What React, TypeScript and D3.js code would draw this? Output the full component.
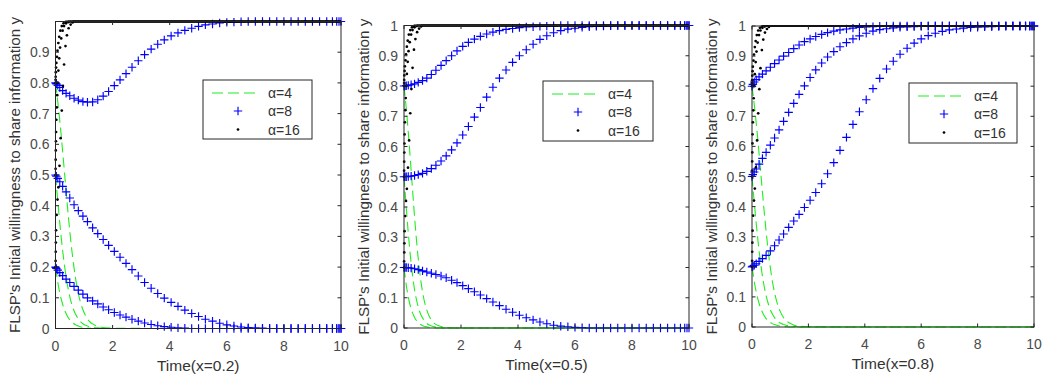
import React from 'react';
import * as d3 from 'd3';

const W = 1045;
const H = 379;

const X_TICKS = [0, 2, 4, 6, 8, 10];
const Y_TICKS = [0, 0.1, 0.2, 0.3, 0.4, 0.5, 0.6, 0.7, 0.8, 0.9, 1];
const Y_TICK_LABELS = ['0', '0.1', '0.2', '0.3', '0.4', '0.5', '0.6', '0.7', '0.8', '0.9', '1'];
const LEGEND_LABELS = ['α=4', 'α=8', 'α=16'];
const X_TITLES = ['Time(x=0.2)', 'Time(x=0.5)', 'Time(x=0.8)'];
const Y_TITLE = "FLSP's Initial willingness to share information y";

// alpha = 4 (green dashed), time samples
const T_GREEN = [0, 0.05, 0.1, 0.15, 0.2, 0.25, 0.3, 0.35, 0.4, 0.5, 0.6, 0.7, 0.8, 0.9, 1.0, 1.1, 1.2, 1.3, 1.4, 1.5, 1.6, 2, 4, 6, 8, 10];
const G1_80 = [0.800, 0.763, 0.722, 0.677, 0.629, 0.577, 0.524, 0.470, 0.417, 0.318, 0.233, 0.165, 0.114, 0.077, 0.052, 0.034, 0.022, 0.015, 0.010, 0.006, 0.004, 0.001, 0, 0, 0, 0];
const G1_50 = [0.500, 0.446, 0.394, 0.344, 0.297, 0.254, 0.216, 0.182, 0.152, 0.104, 0.070, 0.047, 0.031, 0.020, 0.013, 0.009, 0.006, 0.004, 0.002, 0.002, 0.001, 0, 0, 0, 0, 0];
const G1_20 = [0.200, 0.168, 0.140, 0.116, 0.096, 0.079, 0.064, 0.053, 0.043, 0.028, 0.019, 0.012, 0.008, 0.005, 0.003, 0.002, 0.001, 0, 0, 0, 0, 0, 0, 0, 0, 0];
const G2_80 = [0.800, 0.755, 0.704, 0.647, 0.586, 0.521, 0.457, 0.393, 0.333, 0.229, 0.150, 0.095, 0.059, 0.036, 0.022, 0.013, 0.008, 0.005, 0.003, 0.002, 0.001, 0, 0, 0, 0, 0];
const G2_50 = [0.500, 0.435, 0.373, 0.314, 0.261, 0.214, 0.174, 0.139, 0.111, 0.069, 0.042, 0.026, 0.015, 0.009, 0.006, 0.003, 0.002, 0.001, 0, 0, 0, 0, 0, 0, 0, 0];
const G2_20 = [0.200, 0.162, 0.129, 0.103, 0.081, 0.064, 0.050, 0.039, 0.030, 0.018, 0.011, 0.006, 0.004, 0.002, 0.001, 0, 0, 0, 0, 0, 0, 0, 0, 0, 0, 0];
const G3_80 = [0.800, 0.763, 0.722, 0.677, 0.629, 0.577, 0.524, 0.470, 0.417, 0.318, 0.233, 0.165, 0.114, 0.077, 0.052, 0.034, 0.022, 0.015, 0.010, 0.006, 0.004, 0.001, 0, 0, 0, 0];
const G3_50 = [0.500, 0.446, 0.394, 0.344, 0.297, 0.254, 0.216, 0.182, 0.152, 0.104, 0.070, 0.047, 0.031, 0.020, 0.013, 0.009, 0.006, 0.004, 0.002, 0.002, 0.001, 0, 0, 0, 0, 0];
const G3_20 = [0.200, 0.168, 0.140, 0.116, 0.096, 0.079, 0.064, 0.053, 0.043, 0.028, 0.019, 0.012, 0.008, 0.005, 0.003, 0.002, 0.001, 0, 0, 0, 0, 0, 0, 0, 0, 0];

// alpha = 8 (blue +), solver steps
const T_BLUE = [
  0, 0.03, 0.08, 0.15, 0.25, 0.37, 0.5, 0.65, 0.8, 0.96,
  1.12, 1.3, 1.48, 1.67, 1.86, 2.06, 2.26, 2.47, 2.68, 2.9,
  3.12, 3.35, 3.58, 3.81, 4.05, 4.29, 4.53, 4.77, 5.01, 5.25,
  5.5, 5.75, 6.0, 6.25, 6.5, 6.75, 7.0, 7.25, 7.5, 7.75,
  8.0, 8.25, 8.5, 8.75, 9.0, 9.25, 9.5, 9.7, 9.85, 9.93,
  10];
const B1_80 = [
  0.800, 0.797, 0.792, 0.785, 0.775, 0.766, 0.758, 0.750, 0.744, 0.739,
  0.737, 0.738, 0.745, 0.757, 0.772, 0.791, 0.810, 0.830, 0.851, 0.872,
  0.892, 0.910, 0.926, 0.940, 0.953, 0.963, 0.971, 0.978, 0.984, 0.989,
  0.992, 0.995, 0.997, 0.998, 0.999, 1, 1, 1, 1, 1,
  1, 1, 1, 1, 1, 1, 1, 1, 1, 1,
  1];
const B1_50 = [
  0.500, 0.496, 0.489, 0.478, 0.463, 0.445, 0.425, 0.403, 0.384, 0.366,
  0.348, 0.328, 0.309, 0.290, 0.271, 0.251, 0.232, 0.212, 0.192, 0.171,
  0.150, 0.131, 0.114, 0.099, 0.085, 0.072, 0.060, 0.049, 0.039, 0.030,
  0.024, 0.017, 0.012, 0.008, 0.005, 0.003, 0.002, 0.001, 0, 0,
  0, 0, 0, 0, 0, 0, 0, 0, 0, 0,
  0];
const B1_20 = [
  0.200, 0.196, 0.190, 0.182, 0.172, 0.161, 0.150, 0.137, 0.125, 0.112,
  0.100, 0.090, 0.080, 0.070, 0.061, 0.052, 0.044, 0.037, 0.030, 0.024,
  0.018, 0.013, 0.009, 0.006, 0.004, 0.002, 0.001, 0, 0, 0,
  0, 0, 0, 0, 0, 0, 0, 0, 0, 0,
  0, 0, 0, 0, 0, 0, 0, 0, 0, 0,
  0];
const B2_80 = [
  0.800, 0.800, 0.801, 0.802, 0.804, 0.807, 0.812, 0.818, 0.826, 0.838,
  0.852, 0.868, 0.884, 0.900, 0.916, 0.931, 0.944, 0.955, 0.964, 0.972,
  0.978, 0.983, 0.987, 0.990, 0.993, 0.995, 0.996, 0.997, 0.998, 0.999,
  1, 1, 1, 1, 1, 1, 1, 1, 1, 1,
  1, 1, 1, 1, 1, 1, 1, 1, 1, 1,
  1];
const B2_50 = [
  0.500, 0.500, 0.500, 0.501, 0.502, 0.504, 0.507, 0.511, 0.518, 0.527,
  0.538, 0.552, 0.569, 0.589, 0.612, 0.638, 0.666, 0.697, 0.729, 0.763,
  0.796, 0.826, 0.853, 0.878, 0.900, 0.920, 0.938, 0.954, 0.966, 0.976,
  0.983, 0.988, 0.991, 0.994, 0.996, 0.997, 0.998, 0.999, 1, 1,
  1, 1, 1, 1, 1, 1, 1, 1, 1, 1,
  1];
const B2_20 = [
  0.200, 0.200, 0.200, 0.199, 0.198, 0.196, 0.193, 0.189, 0.185, 0.181,
  0.177, 0.172, 0.166, 0.158, 0.150, 0.140, 0.130, 0.120, 0.109, 0.097,
  0.086, 0.074, 0.062, 0.052, 0.042, 0.034, 0.027, 0.020, 0.014, 0.009,
  0.006, 0.004, 0.002, 0.001, 0, 0, 0, 0, 0, 0,
  0, 0, 0, 0, 0, 0, 0, 0, 0, 0,
  0];
const B3_80 = [
  0.800, 0.806, 0.814, 0.822, 0.831, 0.840, 0.851, 0.863, 0.875, 0.887,
  0.900, 0.912, 0.925, 0.937, 0.948, 0.957, 0.965, 0.972, 0.978, 0.983,
  0.987, 0.990, 0.993, 0.995, 0.997, 0.998, 0.999, 1, 1, 1,
  1, 1, 1, 1, 1, 1, 1, 1, 1, 1,
  1, 1, 1, 1, 1, 1, 1, 1, 1, 1,
  1];
const B3_50 = [
  0.500, 0.506, 0.515, 0.525, 0.541, 0.560, 0.580, 0.604, 0.628, 0.655,
  0.683, 0.713, 0.743, 0.773, 0.801, 0.829, 0.854, 0.877, 0.897, 0.915,
  0.931, 0.945, 0.957, 0.967, 0.976, 0.983, 0.988, 0.991, 0.994, 0.996,
  0.997, 0.998, 0.999, 1, 1, 1, 1, 1, 1, 1,
  1, 1, 1, 1, 1, 1, 1, 1, 1, 1,
  1];
const B3_20 = [
  0.200, 0.202, 0.205, 0.210, 0.218, 0.227, 0.238, 0.253, 0.270, 0.289,
  0.309, 0.331, 0.352, 0.374, 0.397, 0.421, 0.447, 0.476, 0.509, 0.546,
  0.587, 0.630, 0.673, 0.715, 0.755, 0.792, 0.826, 0.857, 0.883, 0.906,
  0.926, 0.943, 0.957, 0.968, 0.976, 0.982, 0.987, 0.990, 0.993, 0.995,
  0.996, 0.997, 0.998, 0.999, 1, 1, 1, 1, 1, 1,
  1];

// alpha = 16 (black dots), solver steps
const K_T80 = [0, 0.003, 0.006, 0.01, 0.02, 0.03, 0.05, 0.07, 0.1, 0.13, 0.17, 0.22, 0.28, 0.35];
const K_V80 = [0.8, 0.81, 0.82, 0.835, 0.85, 0.865, 0.885, 0.905, 0.93, 0.95, 0.97, 0.985, 0.994, 0.998];
const K_T50 = [0, 0.003, 0.006, 0.01, 0.015, 0.02, 0.03, 0.045, 0.06, 0.08, 0.1, 0.13, 0.16, 0.2, 0.25, 0.3, 0.37, 0.45];
const K_V50 = [0.5, 0.52, 0.55, 0.58, 0.61, 0.64, 0.68, 0.72, 0.76, 0.8, 0.84, 0.88, 0.915, 0.945, 0.97, 0.985, 0.994, 0.998];
const K_T20 = [0, 0.004, 0.008, 0.012, 0.02, 0.04, 0.07, 0.1, 0.14, 0.18, 0.22, 0.26, 0.3, 0.35, 0.4, 0.46, 0.53, 0.6];
const K_V20 = [0.2, 0.22, 0.25, 0.28, 0.32, 0.37, 0.42, 0.46, 0.53, 0.62, 0.71, 0.79, 0.86, 0.92, 0.955, 0.978, 0.99, 0.997];
const K_END = 10;

const PANELS = [
  { left: 55.5, right: 341, top: 21.5, bottom: 328.5, yTitleX: 15, showTopLabel: false,
    legend: { x: 203, y: 80, w: 109, h: 59 },
    green: [G1_80, G1_50, G1_20], blue: [B1_80, B1_50, B1_20] },
  { left: 404, right: 689, top: 25.5, bottom: 328, yTitleX: 364, showTopLabel: true,
    legend: { x: 543, y: 81, w: 110, h: 60 },
    green: [G2_80, G2_50, G2_20], blue: [B2_80, B2_50, B2_20] },
  { left: 752, right: 1034, top: 26, bottom: 327, yTitleX: 712, showTopLabel: true,
    legend: { x: 909, y: 83, w: 108, h: 60 },
    green: [G3_80, G3_50, G3_20], blue: [B3_80, B3_50, B3_20] },
];

const BLACK = [
  [K_T80, K_V80],
  [K_T50, K_V50],
  [K_T20, K_V20],
];

const FONT = "'Liberation Sans', Arial, Helvetica, sans-serif";
const AXIS = '#262626';
const TITLE_TXT = '#333333';
const TICK_TXT = '#4a4a4a';
const GREEN = '#1fee1f';
const BLUE = '#0000ff';

function plus(x: number, y: number, s: number) {
  return `M${x - s},${y}H${x + s}M${x},${y - s}V${y + s}`;
}

function Panel({ p, idx }: { p: any; idx: number }) {
  const x = d3.scaleLinear().domain([0, 10]).range([p.left, p.right]);
  const y = d3.scaleLinear().domain([0, 1]).range([p.bottom, p.top]);
  const line = d3.line<number>()
    .x((_, i) => x(T_GREEN[i]))
    .y((v) => y(v))
    .curve(d3.curveMonotoneX);
  const tl = 3.5;
  const lg = p.legend;
  const rows = [13, 31, 49.5];
  const ms = 4.2;
  return (
    <g>
      {p.green.map((s: number[], i: number) => (
        <path key={'g' + i} d={line(s) || ''} fill="none" stroke={GREEN} strokeWidth={1.1} strokeDasharray="10,5" />
      ))}
      {p.blue.map((s: number[], i: number) => (
        <path key={'b' + i}
          d={s.map((v, j) => plus(x(T_BLUE[j]), y(v), ms)).join('')}
          fill="none" stroke={BLUE} strokeWidth={1.15} />
      ))}
      {BLACK.map(([ts, vs], i) => (
        <g key={'k' + i}>
          {vs.map((v, j) => (
            <circle key={j} cx={x(ts[j])} cy={y(v)} r={1.35} fill="#000" />
          ))}
          <line x1={x(ts[ts.length - 1])} x2={x(K_END)} y1={y(1)} y2={y(1)} stroke="#000" strokeWidth={2.2} />
        </g>
      ))}
      <rect x={p.left} y={p.top} width={p.right - p.left} height={p.bottom - p.top} fill="none" stroke={AXIS} strokeWidth={1} />
      {X_TICKS.map((t) => (
        <g key={'xt' + t}>
          <line x1={x(t)} x2={x(t)} y1={p.bottom} y2={p.bottom - tl} stroke={AXIS} />
          <line x1={x(t)} x2={x(t)} y1={p.top} y2={p.top + tl} stroke={AXIS} />
          <text x={x(t)} y={p.bottom + 22} textAnchor="middle" fontSize={14} fontFamily={FONT} fill={TICK_TXT}>{t}</text>
        </g>
      ))}
      {Y_TICKS.map((t, i) => (
        <g key={'yt' + i}>
          <line x1={p.left} x2={p.left + tl} y1={y(t)} y2={y(t)} stroke={AXIS} />
          <line x1={p.right} x2={p.right - tl} y1={y(t)} y2={y(t)} stroke={AXIS} />
          {(t < 1 || p.showTopLabel) && (
            <text x={p.left - 6} y={y(t)} dy="0.36em" textAnchor="end" fontSize={14} fontFamily={FONT} fill={TICK_TXT}>{Y_TICK_LABELS[i]}</text>
          )}
        </g>
      ))}
      <text x={(p.left + p.right) / 2} y={p.bottom + 42} textAnchor="middle" fontSize={15.5} fontFamily={FONT} fill={TITLE_TXT}>{X_TITLES[idx]}</text>
      <text transform={`translate(${p.yTitleX},${(p.top + p.bottom) / 2}) rotate(-90)`} dy="0.36em" textAnchor="middle" fontSize={15.2} fontFamily={FONT} fill={TITLE_TXT}>{Y_TITLE}</text>
      <rect x={lg.x} y={lg.y} width={lg.w} height={lg.h} fill="#fff" stroke={AXIS} strokeWidth={1} />
      <line x1={lg.x + 9} x2={lg.x + 55} y1={lg.y + rows[0]} y2={lg.y + rows[0]} stroke={GREEN} strokeWidth={1.1} strokeDasharray="11,5" />
      <path d={plus(lg.x + 35, lg.y + rows[1], ms)} stroke={BLUE} strokeWidth={1.15} fill="none" />
      <circle cx={lg.x + 35} cy={lg.y + rows[2]} r={1.35} fill="#000" />
      {LEGEND_LABELS.map((l, i) => (
        <text key={l} x={lg.x + 65} y={lg.y + rows[i]} dy="0.36em" fontSize={14} fontFamily={FONT} fill={TITLE_TXT}>{l}</text>
      ))}
    </g>
  );
}

export default function App() {
  return (
    <svg width={W} height={H} style={{ position: 'absolute', left: 0, top: 0, background: '#fff' }}>
      <rect width={W} height={H} fill="#fff" />
      {PANELS.map((p, i) => (
        <Panel key={i} p={p} idx={i} />
      ))}
    </svg>
  );
}
